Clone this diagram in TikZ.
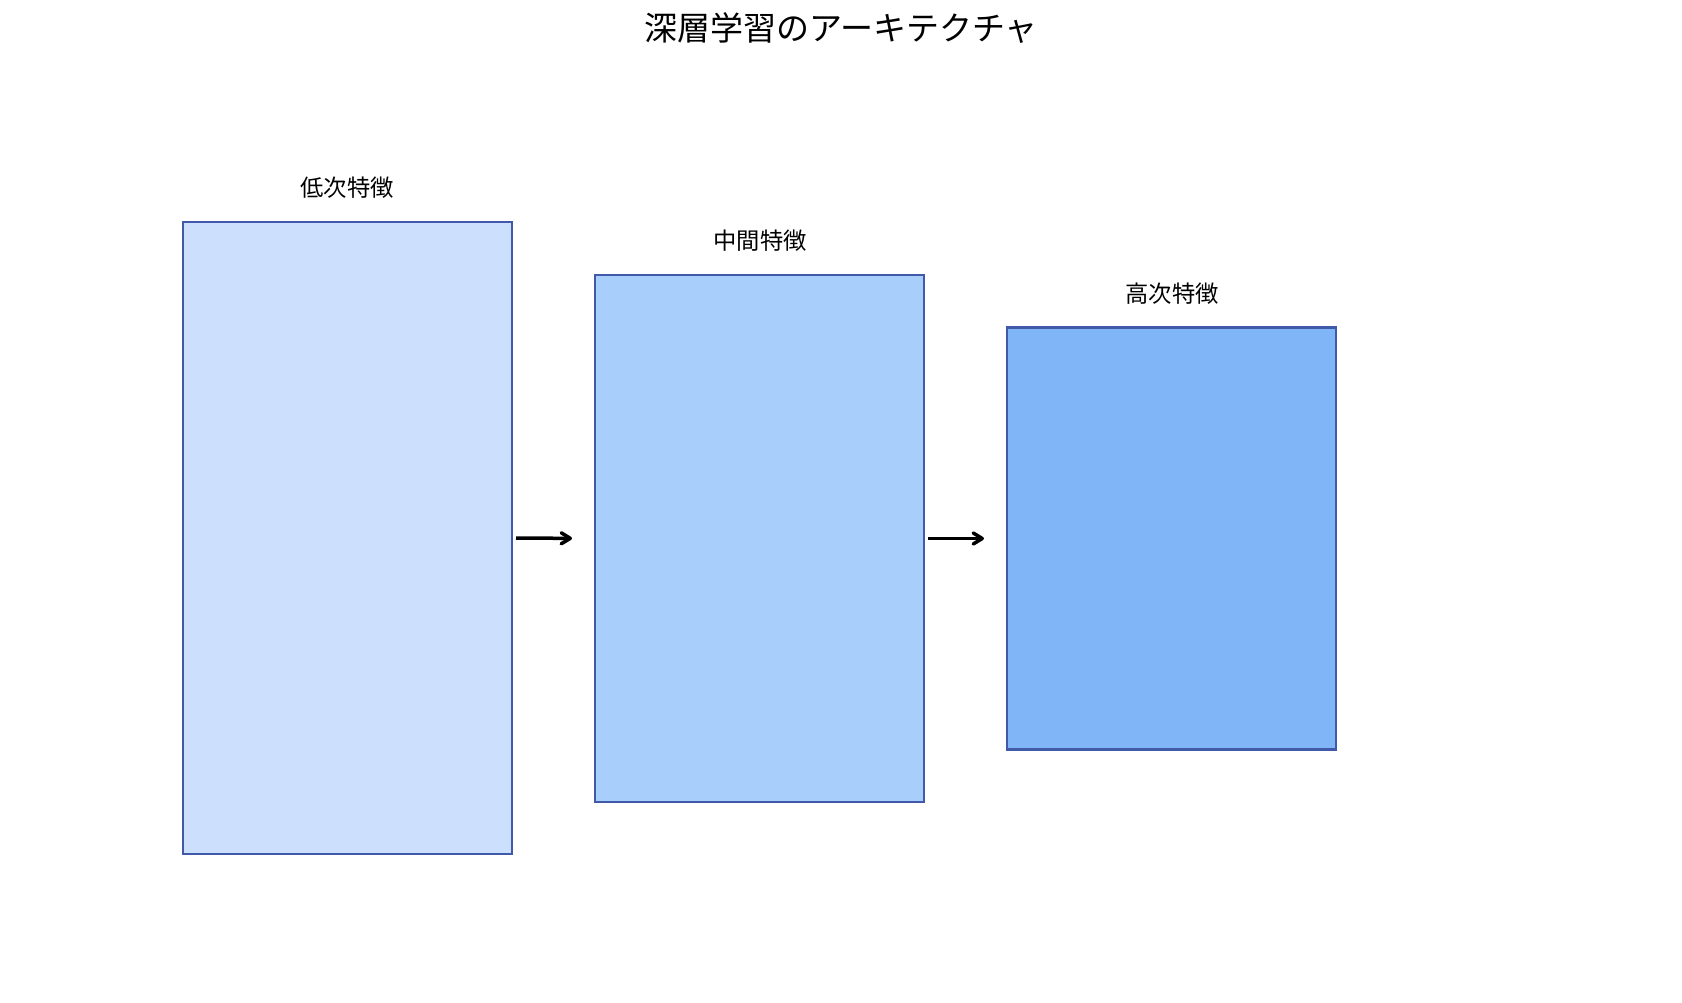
\documentclass[tikz,border=0pt]{standalone}
\usepackage{fontspec}
\setmainfont{Noto Sans CJK JP}
\usetikzlibrary{arrows.meta}
\definecolor{edgeblue}{HTML}{4059A8}
\definecolor{fillA}{HTML}{CCE0FD}
\definecolor{fillB}{HTML}{A8CFFB}
\definecolor{fillC}{HTML}{80B6F8}
\tikzset{
  layerbox/.style={draw=edgeblue, line width=2.3pt, minimum width=329pt, inner sep=0pt, outer sep=0pt},
  layerlabel/.style={font=\fontsize{23.3}{27}\selectfont, inner sep=0pt},
  flow/.style={line width=3.5pt, -{Straight Barb[length=9pt,width=11pt,line width=3.5pt,line cap=round,line join=round]}, shorten <=4pt, shorten >=23pt}
}
\begin{document}
\begin{tikzpicture}[x=1pt,y=-1pt]
\useasboundingbox (0,0) rectangle (1682,1003);
\node[font=\fontsize{33}{39}\selectfont, inner sep=0pt] (title) at (841,28) {深層学習のアーキテクチャ};
\node[layerbox, fill=fillA, minimum height=632pt] (b1) at (347.5,538) {};
\node[layerbox, fill=fillB, minimum height=527pt] (b2) at (759.5,538.5) {};
\node[layerbox, fill=fillC, minimum height=422pt] (b3) at (1171.5,538.5) {};
\node[layerlabel] (l1) at (347,188) {低次特徴};
\node[layerlabel] (l2) at (760,241) {中間特徴};
\node[layerlabel] (l3) at (1172,294) {高次特徴};
\draw[flow] (b1.east) -- (b2.west);
\draw[flow] (b2.east) -- (b3.west);
\end{tikzpicture}
\end{document}
